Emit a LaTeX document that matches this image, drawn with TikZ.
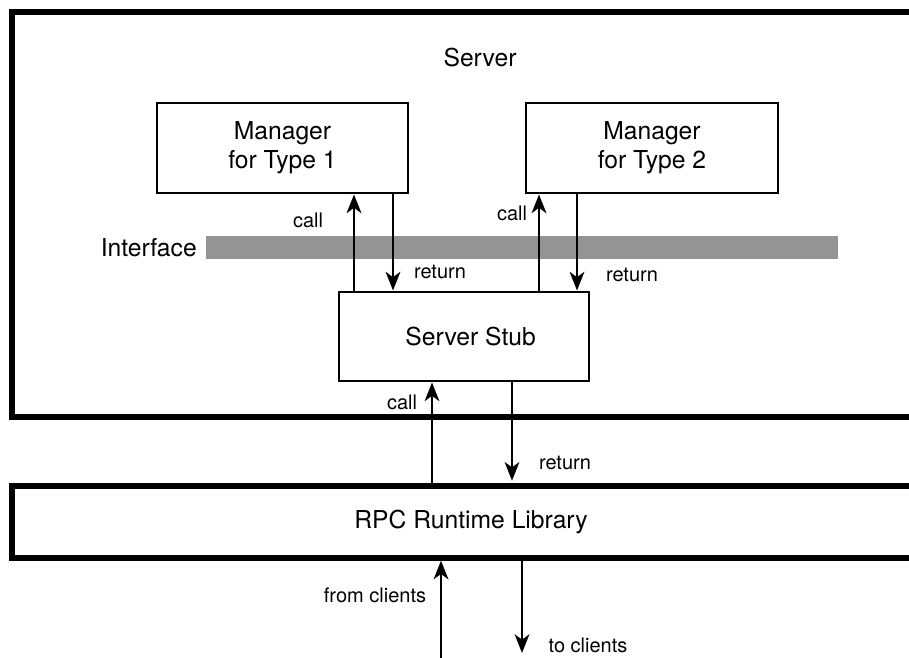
\documentclass[tikz,border=0pt]{standalone}
\usepackage{fontspec}
\setmainfont{TeX Gyre Heros}
\usetikzlibrary{arrows.meta}
\newcommand{\dgbig}{\fontsize{18.5}{21.75}\selectfont}
\newcommand{\dgsmall}{\fontsize{15}{18}\selectfont}
\begin{document}
\begin{tikzpicture}[x=0.75pt,y=-0.75pt,
  layer/.style={draw, line width=3.9pt, inner sep=0pt},
  box/.style={draw, line width=2.2pt, inner sep=0pt, align=center, font=\dgbig},
  arr/.style={line width=1.9pt, -{Stealth[length=14pt,width=11pt,inset=4pt]}},
  big/.style={font=\dgbig, inner sep=0pt},
  small/.style={font=\dgsmall, inner sep=0pt}]
\useasboundingbox (0,0) rectangle (909,657);
\clip (0,0) rectangle (909,657);

% server process and the runtime layer (both run past the right edge)
\node[layer, minimum width=688.5pt, minimum height=303.75pt] (server) at (471,214.5) {};
\node[layer, minimum width=688.5pt, minimum height=54pt, font=\dgbig] (rpc) at (471,522) {RPC Runtime Library};
\node[big] (srvlabel) at (480,58) {Server};

% interface band
\node[fill=black!42, inner sep=0pt, minimum width=474pt, minimum height=17.25pt] (iface) at (522,247.5) {};
\node[big, anchor=east] (ifacelabel) at (197,248) {Interface};

% managers and stub
\node[box, minimum width=188.25pt, minimum height=67.5pt] (mgrA) at (282.5,148) {Manager\\for Type 1};
\node[box, minimum width=189pt, minimum height=67.5pt] (mgrB) at (652,148) {Manager\\for Type 2};
\node[box, minimum width=187.5pt, minimum height=66.75pt] (stub) at (464,336.5) {\hspace*{10pt}Server Stub};

% arrow columns
\coordinate (c1) at (354,0);
\coordinate (r1) at (393,0);
\coordinate (c2) at (539,0);
\coordinate (r2) at (577,0);
\coordinate (c3) at (432,0);
\coordinate (r3) at (512,0);
\coordinate (fromcl) at (441,672);
\coordinate (tocl) at (522,653);

\draw[arr] (c1 |- stub.north) -- (c1 |- mgrA.south);
\draw[arr] (r1 |- mgrA.south) -- (r1 |- stub.north);
\draw[arr] (c2 |- stub.north) -- (c2 |- mgrB.south);
\draw[arr] (r2 |- mgrB.south) -- (r2 |- stub.north);
\draw[arr] (c3 |- rpc.north) -- (c3 |- stub.south);
\draw[arr] (r3 |- stub.south) -- ([yshift=2pt]r3 |- rpc.north);
\draw[arr] (fromcl) -- (fromcl |- rpc.south);
\draw[arr] (tocl |- rpc.south) -- (tocl);

% arrow labels
\node[small] (l1) at (308,220) {call};
\node[small] (l2) at (440,272) {return};
\node[small] (l3) at (512,213) {call};
\node[small] (l4) at (632,275) {return};
\node[small] (l5) at (402,402) {call};
\node[small] (l6) at (565,463) {return};
\node[small] (l7) at (375,595) {from clients};
\node[small] (l8) at (588,645) {to clients};
\end{tikzpicture}
\end{document}
